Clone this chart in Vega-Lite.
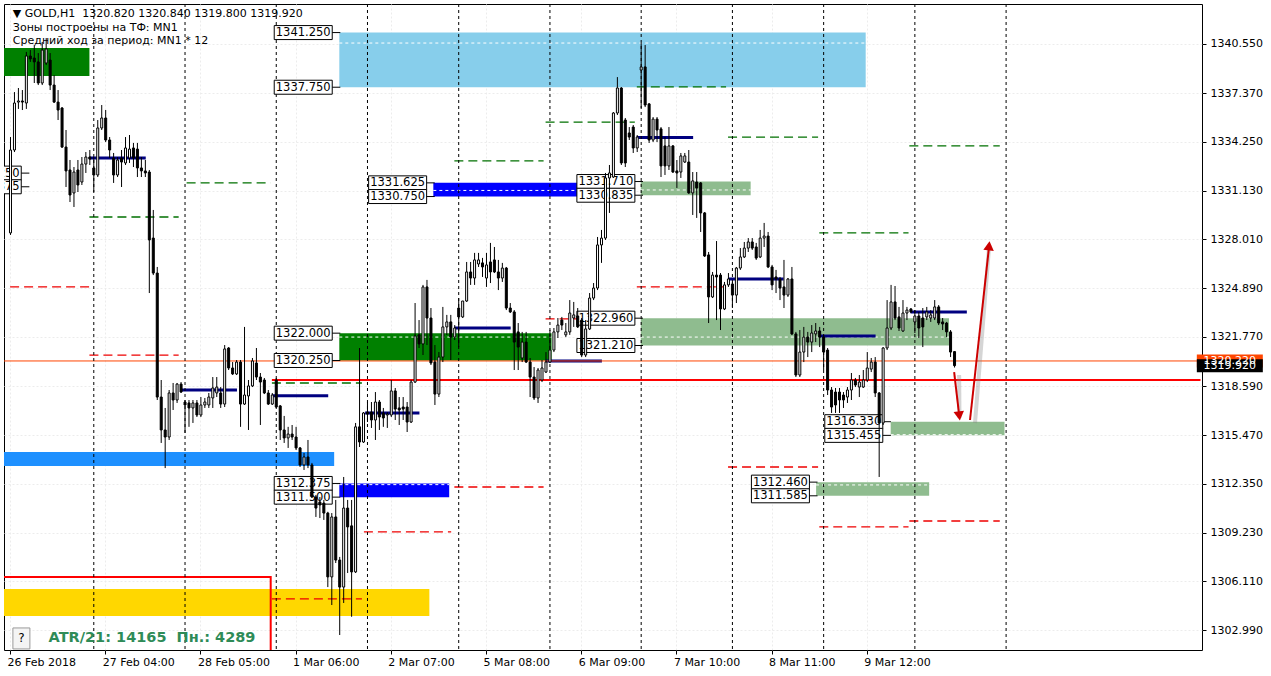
{
"$schema":"https://vega.github.io/schema/vega-lite/v6.json",
"width":1198,"height":646,
"autosize":"none",
"padding":{"left":4,"top":4,"right":69,"bottom":26},
"background":"white",
"config":{"view":{"stroke":"black","strokeWidth":1},"font":"DejaVu Sans"},
"datasets":{
"c":[
{"i":0,"o":1328.42,"h":1334.56,"l":1328.29,"c":1333.73},
{"i":1,"o":1333.73,"h":1337.44,"l":1333.60,"c":1336.74},
{"i":2,"o":1336.80,"h":1337.70,"l":1336.36,"c":1336.87},
{"i":3,"o":1336.87,"h":1337.57,"l":1336.29,"c":1336.80},
{"i":4,"o":1336.74,"h":1340.01,"l":1336.36,"c":1339.75},
{"i":5,"o":1339.75,"h":1340.13,"l":1339.37,"c":1339.56},
{"i":6,"o":1339.62,"h":1340.45,"l":1338.02,"c":1339.37},
{"i":7,"o":1339.37,"h":1339.94,"l":1337.89,"c":1338.02},
{"i":8,"o":1338.02,"h":1340.65,"l":1337.89,"c":1340.13},
{"i":9,"o":1339.30,"h":1340.90,"l":1339.17,"c":1340.20},
{"i":10,"o":1339.49,"h":1339.94,"l":1337.57,"c":1337.89},
{"i":11,"o":1337.89,"h":1338.53,"l":1336.74,"c":1336.80},
{"i":12,"o":1336.80,"h":1337.57,"l":1335.65,"c":1336.29},
{"i":13,"o":1336.42,"h":1336.48,"l":1333.86,"c":1333.92},
{"i":14,"o":1333.92,"h":1335.01,"l":1331.36,"c":1332.39},
{"i":15,"o":1332.45,"h":1333.09,"l":1330.40,"c":1330.85},
{"i":16,"o":1330.98,"h":1332.64,"l":1330.08,"c":1332.32},
{"i":17,"o":1332.45,"h":1333.09,"l":1331.04,"c":1331.49},
{"i":18,"o":1331.68,"h":1333.28,"l":1331.49,"c":1332.83},
{"i":19,"o":1332.83,"h":1333.60,"l":1332.26,"c":1333.28},
{"i":20,"o":1333.28,"h":1333.73,"l":1332.77,"c":1333.15},
{"i":21,"o":1332.58,"h":1333.28,"l":1331.04,"c":1332.13},
{"i":22,"o":1332.13,"h":1335.65,"l":1332.00,"c":1335.14},
{"i":23,"o":1335.14,"h":1336.61,"l":1335.01,"c":1335.78},
{"i":24,"o":1335.78,"h":1336.29,"l":1334.24,"c":1334.37},
{"i":25,"o":1334.37,"h":1334.56,"l":1333.22,"c":1333.73},
{"i":26,"o":1333.22,"h":1333.54,"l":1331.62,"c":1332.13},
{"i":27,"o":1332.13,"h":1333.28,"l":1332.00,"c":1333.09},
{"i":28,"o":1333.22,"h":1333.73,"l":1331.36,"c":1332.96},
{"i":29,"o":1332.90,"h":1334.56,"l":1332.77,"c":1333.86},
{"i":30,"o":1333.22,"h":1334.69,"l":1332.90,"c":1333.79},
{"i":31,"o":1333.86,"h":1334.18,"l":1332.64,"c":1333.22},
{"i":32,"o":1333.79,"h":1334.18,"l":1332.00,"c":1332.58},
{"i":33,"o":1332.58,"h":1333.28,"l":1332.00,"c":1332.39},
{"i":34,"o":1332.39,"h":1333.09,"l":1332.00,"c":1332.26},
{"i":35,"o":1332.32,"h":1332.45,"l":1324.57,"c":1327.97},
{"i":36,"o":1328.09,"h":1329.89,"l":1325.72,"c":1325.85},
{"i":37,"o":1325.85,"h":1326.24,"l":1317.72,"c":1317.91},
{"i":38,"o":1317.91,"h":1319.00,"l":1314.97,"c":1315.80},
{"i":39,"o":1315.80,"h":1317.21,"l":1313.36,"c":1315.35},
{"i":40,"o":1315.35,"h":1318.36,"l":1315.16,"c":1318.17},
{"i":41,"o":1318.17,"h":1318.81,"l":1317.08,"c":1317.72},
{"i":42,"o":1317.72,"h":1318.81,"l":1317.53,"c":1318.74},
{"i":43,"o":1318.74,"h":1318.87,"l":1318.17,"c":1318.23},
{"i":44,"o":1317.59,"h":1317.72,"l":1315.61,"c":1317.40},
{"i":45,"o":1317.53,"h":1317.72,"l":1316.00,"c":1317.21},
{"i":46,"o":1317.21,"h":1317.72,"l":1316.25,"c":1317.53},
{"i":47,"o":1317.53,"h":1317.72,"l":1316.63,"c":1316.76},
{"i":48,"o":1316.76,"h":1317.91,"l":1316.63,"c":1317.40},
{"i":49,"o":1317.40,"h":1317.85,"l":1317.21,"c":1317.59},
{"i":50,"o":1317.40,"h":1318.17,"l":1317.21,"c":1317.91},
{"i":51,"o":1317.85,"h":1319.19,"l":1317.21,"c":1318.49},
{"i":52,"o":1318.17,"h":1319.19,"l":1317.91,"c":1318.55},
{"i":53,"o":1318.17,"h":1318.55,"l":1317.21,"c":1317.46},
{"i":54,"o":1317.46,"h":1321.24,"l":1317.27,"c":1320.99},
{"i":55,"o":1321.05,"h":1321.11,"l":1319.64,"c":1319.77},
{"i":56,"o":1319.77,"h":1320.15,"l":1319.32,"c":1319.39},
{"i":57,"o":1319.39,"h":1320.28,"l":1319.32,"c":1320.15},
{"i":58,"o":1320.15,"h":1320.28,"l":1316.00,"c":1317.46},
{"i":59,"o":1317.46,"h":1322.40,"l":1317.40,"c":1318.04},
{"i":60,"o":1317.98,"h":1319.00,"l":1315.80,"c":1318.62},
{"i":61,"o":1318.62,"h":1320.41,"l":1318.55,"c":1320.22},
{"i":62,"o":1320.09,"h":1321.05,"l":1319.00,"c":1319.19},
{"i":63,"o":1319.19,"h":1319.45,"l":1316.12,"c":1318.87},
{"i":64,"o":1319.00,"h":1319.13,"l":1318.10,"c":1318.17},
{"i":65,"o":1318.17,"h":1318.36,"l":1317.40,"c":1317.46},
{"i":66,"o":1317.46,"h":1318.17,"l":1317.40,"c":1318.04},
{"i":67,"o":1319.00,"h":1319.13,"l":1317.21,"c":1317.27},
{"i":68,"o":1317.34,"h":1317.40,"l":1315.16,"c":1315.80},
{"i":69,"o":1315.80,"h":1316.70,"l":1314.97,"c":1315.29},
{"i":70,"o":1315.29,"h":1316.00,"l":1314.65,"c":1315.54},
{"i":71,"o":1315.54,"h":1316.12,"l":1315.16,"c":1315.35},
{"i":72,"o":1315.35,"h":1316.00,"l":1314.52,"c":1314.65},
{"i":73,"o":1314.65,"h":1314.71,"l":1313.43,"c":1313.56},
{"i":74,"o":1313.56,"h":1314.33,"l":1313.24,"c":1314.07},
{"i":75,"o":1314.07,"h":1315.16,"l":1313.36,"c":1313.56},
{"i":76,"o":1313.56,"h":1313.69,"l":1311.44,"c":1311.51},
{"i":77,"o":1311.51,"h":1311.64,"l":1310.23,"c":1310.80},
{"i":78,"o":1311.19,"h":1311.51,"l":1310.16,"c":1311.00},
{"i":79,"o":1311.12,"h":1311.32,"l":1310.04,"c":1310.48},
{"i":80,"o":1310.48,"h":1310.56,"l":1305.74,"c":1306.39},
{"i":81,"o":1306.39,"h":1310.48,"l":1304.59,"c":1310.23},
{"i":82,"o":1310.23,"h":1311.32,"l":1307.28,"c":1307.47},
{"i":83,"o":1307.47,"h":1307.67,"l":1302.67,"c":1305.74},
{"i":84,"o":1305.74,"h":1312.79,"l":1304.72,"c":1310.80},
{"i":85,"o":1310.80,"h":1311.32,"l":1306.64,"c":1309.59},
{"i":86,"o":1309.66,"h":1311.32,"l":1303.84,"c":1306.71},
{"i":87,"o":1306.71,"h":1316.25,"l":1306.64,"c":1316.00},
{"i":88,"o":1316.00,"h":1321.05,"l":1314.71,"c":1315.03},
{"i":89,"o":1315.03,"h":1316.95,"l":1314.97,"c":1316.89},
{"i":90,"o":1316.95,"h":1317.59,"l":1316.31,"c":1316.82},
{"i":91,"o":1316.95,"h":1317.59,"l":1315.93,"c":1316.44},
{"i":92,"o":1316.44,"h":1318.23,"l":1315.16,"c":1317.59},
{"i":93,"o":1317.59,"h":1317.72,"l":1315.80,"c":1316.63},
{"i":94,"o":1316.89,"h":1317.21,"l":1316.00,"c":1316.57},
{"i":95,"o":1316.76,"h":1316.95,"l":1315.93,"c":1316.82},
{"i":96,"o":1316.76,"h":1319.00,"l":1316.63,"c":1318.30},
{"i":97,"o":1318.30,"h":1318.49,"l":1316.44,"c":1317.14},
{"i":98,"o":1317.21,"h":1317.91,"l":1316.12,"c":1317.08},
{"i":99,"o":1317.27,"h":1317.91,"l":1316.44,"c":1317.14},
{"i":100,"o":1317.27,"h":1317.59,"l":1315.67,"c":1316.31},
{"i":101,"o":1316.31,"h":1319.00,"l":1316.25,"c":1318.87},
{"i":102,"o":1318.87,"h":1323.93,"l":1318.81,"c":1321.82},
{"i":103,"o":1321.89,"h":1322.84,"l":1321.05,"c":1321.31},
{"i":104,"o":1321.31,"h":1325.09,"l":1320.60,"c":1324.96},
{"i":105,"o":1324.96,"h":1325.41,"l":1321.24,"c":1322.97},
{"i":106,"o":1322.97,"h":1323.61,"l":1319.96,"c":1320.09},
{"i":107,"o":1320.15,"h":1321.24,"l":1317.40,"c":1318.10},
{"i":108,"o":1318.10,"h":1320.79,"l":1317.91,"c":1320.47},
{"i":109,"o":1320.47,"h":1323.68,"l":1320.15,"c":1322.40},
{"i":110,"o":1322.40,"h":1323.17,"l":1321.88,"c":1322.72},
{"i":111,"o":1322.72,"h":1323.17,"l":1320.28,"c":1321.75},
{"i":112,"o":1321.75,"h":1322.52,"l":1321.56,"c":1322.33},
{"i":113,"o":1323.61,"h":1324.25,"l":1321.11,"c":1323.04},
{"i":114,"o":1323.04,"h":1324.06,"l":1322.97,"c":1324.06},
{"i":115,"o":1324.06,"h":1326.56,"l":1324.00,"c":1325.92},
{"i":116,"o":1325.92,"h":1326.56,"l":1325.09,"c":1325.53},
{"i":117,"o":1325.53,"h":1327.14,"l":1325.09,"c":1326.69},
{"i":118,"o":1326.43,"h":1327.14,"l":1326.24,"c":1326.69},
{"i":119,"o":1326.50,"h":1326.82,"l":1325.60,"c":1326.24},
{"i":120,"o":1325.53,"h":1327.14,"l":1324.96,"c":1326.37},
{"i":121,"o":1326.56,"h":1327.78,"l":1325.21,"c":1325.92},
{"i":122,"o":1326.69,"h":1327.52,"l":1325.85,"c":1325.92},
{"i":123,"o":1325.92,"h":1326.69,"l":1324.76,"c":1325.53},
{"i":124,"o":1325.53,"h":1326.50,"l":1325.28,"c":1326.17},
{"i":125,"o":1326.17,"h":1326.24,"l":1323.48,"c":1323.61},
{"i":126,"o":1323.61,"h":1323.93,"l":1323.29,"c":1323.36},
{"i":127,"o":1323.36,"h":1323.48,"l":1319.64,"c":1321.43},
{"i":128,"o":1322.08,"h":1322.65,"l":1319.64,"c":1321.11},
{"i":129,"o":1320.41,"h":1322.08,"l":1320.15,"c":1321.43},
{"i":130,"o":1321.43,"h":1322.08,"l":1320.09,"c":1320.15},
{"i":131,"o":1320.15,"h":1320.41,"l":1317.91,"c":1319.19},
{"i":132,"o":1319.19,"h":1319.83,"l":1317.72,"c":1317.85},
{"i":133,"o":1317.85,"h":1319.77,"l":1317.53,"c":1319.64},
{"i":134,"o":1319.00,"h":1320.28,"l":1318.87,"c":1319.77},
{"i":135,"o":1319.51,"h":1320.79,"l":1319.45,"c":1320.15},
{"i":136,"o":1320.15,"h":1322.20,"l":1320.09,"c":1320.92},
{"i":137,"o":1320.92,"h":1322.33,"l":1320.79,"c":1322.08},
{"i":138,"o":1322.08,"h":1322.97,"l":1321.69,"c":1322.52},
{"i":139,"o":1322.84,"h":1323.04,"l":1322.20,"c":1322.52},
{"i":140,"o":1321.89,"h":1322.65,"l":1321.75,"c":1322.08},
{"i":141,"o":1322.08,"h":1324.12,"l":1321.89,"c":1323.29},
{"i":142,"o":1322.97,"h":1324.00,"l":1322.40,"c":1323.17},
{"i":143,"o":1323.10,"h":1323.61,"l":1322.33,"c":1322.40},
{"i":144,"o":1322.84,"h":1322.97,"l":1320.47,"c":1320.60},
{"i":145,"o":1320.60,"h":1322.84,"l":1320.47,"c":1322.27},
{"i":146,"o":1322.27,"h":1324.57,"l":1322.20,"c":1324.25},
{"i":147,"o":1324.25,"h":1325.21,"l":1324.12,"c":1324.89},
{"i":148,"o":1324.89,"h":1328.16,"l":1324.76,"c":1327.65},
{"i":149,"o":1327.65,"h":1328.61,"l":1326.50,"c":1328.09},
{"i":150,"o":1328.09,"h":1332.26,"l":1327.97,"c":1331.94},
{"i":151,"o":1331.94,"h":1332.77,"l":1329.70,"c":1332.26},
{"i":152,"o":1332.00,"h":1336.16,"l":1331.94,"c":1336.10},
{"i":153,"o":1336.10,"h":1338.40,"l":1335.97,"c":1337.70},
{"i":154,"o":1337.70,"h":1337.76,"l":1332.77,"c":1332.90},
{"i":155,"o":1335.65,"h":1335.78,"l":1332.64,"c":1332.90},
{"i":156,"o":1334.82,"h":1335.20,"l":1334.37,"c":1334.56},
{"i":157,"o":1335.20,"h":1335.33,"l":1333.54,"c":1333.86},
{"i":158,"o":1333.86,"h":1334.69,"l":1333.60,"c":1334.56},
{"i":159,"o":1338.85,"h":1340.58,"l":1336.42,"c":1339.05},
{"i":160,"o":1339.05,"h":1340.45,"l":1336.48,"c":1336.61},
{"i":161,"o":1336.68,"h":1336.74,"l":1334.18,"c":1334.37},
{"i":162,"o":1334.37,"h":1335.84,"l":1334.24,"c":1335.71},
{"i":163,"o":1335.71,"h":1335.84,"l":1334.24,"c":1335.01},
{"i":164,"o":1335.08,"h":1335.20,"l":1332.00,"c":1332.71},
{"i":165,"o":1333.99,"h":1334.56,"l":1332.13,"c":1332.71},
{"i":166,"o":1332.71,"h":1335.20,"l":1332.45,"c":1333.99},
{"i":167,"o":1333.99,"h":1334.05,"l":1332.26,"c":1332.32},
{"i":168,"o":1332.39,"h":1333.09,"l":1331.30,"c":1332.26},
{"i":169,"o":1332.32,"h":1333.54,"l":1331.94,"c":1333.35},
{"i":170,"o":1332.96,"h":1333.54,"l":1332.90,"c":1333.35},
{"i":171,"o":1332.96,"h":1333.73,"l":1330.92,"c":1330.98},
{"i":172,"o":1330.98,"h":1332.32,"l":1329.57,"c":1331.75},
{"i":173,"o":1331.68,"h":1332.32,"l":1329.38,"c":1331.30},
{"i":174,"o":1331.62,"h":1331.68,"l":1328.48,"c":1329.70},
{"i":175,"o":1329.70,"h":1329.76,"l":1326.88,"c":1326.94},
{"i":176,"o":1327.01,"h":1327.20,"l":1322.65,"c":1324.32},
{"i":177,"o":1324.32,"h":1325.92,"l":1324.25,"c":1325.72},
{"i":178,"o":1325.72,"h":1327.90,"l":1322.84,"c":1325.60},
{"i":179,"o":1325.72,"h":1325.85,"l":1322.20,"c":1323.55},
{"i":180,"o":1323.55,"h":1325.28,"l":1323.48,"c":1325.09},
{"i":181,"o":1325.09,"h":1325.85,"l":1324.96,"c":1325.47},
{"i":182,"o":1325.15,"h":1325.28,"l":1323.61,"c":1324.44},
{"i":183,"o":1324.44,"h":1326.24,"l":1323.93,"c":1326.17},
{"i":184,"o":1326.17,"h":1327.45,"l":1326.05,"c":1326.88},
{"i":185,"o":1326.88,"h":1327.84,"l":1326.81,"c":1327.45},
{"i":186,"o":1327.45,"h":1328.09,"l":1327.20,"c":1327.84},
{"i":187,"o":1327.84,"h":1328.09,"l":1327.33,"c":1327.45},
{"i":188,"o":1327.52,"h":1327.78,"l":1326.69,"c":1326.81},
{"i":189,"o":1326.88,"h":1328.61,"l":1326.81,"c":1328.09},
{"i":190,"o":1328.09,"h":1329.06,"l":1327.52,"c":1328.22},
{"i":191,"o":1328.22,"h":1328.48,"l":1326.17,"c":1326.24},
{"i":192,"o":1326.24,"h":1326.37,"l":1324.76,"c":1325.09},
{"i":193,"o":1325.60,"h":1326.05,"l":1324.57,"c":1325.47},
{"i":194,"o":1325.47,"h":1325.60,"l":1324.12,"c":1324.89},
{"i":195,"o":1324.96,"h":1326.69,"l":1323.61,"c":1324.44},
{"i":196,"o":1324.44,"h":1325.53,"l":1324.32,"c":1325.47},
{"i":197,"o":1325.47,"h":1326.24,"l":1321.88,"c":1321.95},
{"i":198,"o":1321.95,"h":1322.08,"l":1319.19,"c":1319.32},
{"i":199,"o":1319.32,"h":1322.20,"l":1319.19,"c":1320.79},
{"i":200,"o":1320.79,"h":1322.40,"l":1320.15,"c":1321.75},
{"i":201,"o":1321.75,"h":1322.08,"l":1320.47,"c":1321.43},
{"i":202,"o":1321.43,"h":1322.52,"l":1320.79,"c":1322.01},
{"i":203,"o":1321.95,"h":1322.65,"l":1321.43,"c":1322.14},
{"i":204,"o":1322.14,"h":1322.40,"l":1321.11,"c":1321.75},
{"i":205,"o":1321.75,"h":1321.88,"l":1319.64,"c":1320.79},
{"i":206,"o":1320.92,"h":1321.05,"l":1318.04,"c":1318.36},
{"i":207,"o":1318.36,"h":1318.55,"l":1316.89,"c":1317.27},
{"i":208,"o":1318.23,"h":1318.49,"l":1316.89,"c":1317.40},
{"i":209,"o":1318.23,"h":1318.49,"l":1316.89,"c":1317.72},
{"i":210,"o":1318.04,"h":1318.23,"l":1317.21,"c":1317.72},
{"i":211,"o":1317.91,"h":1318.55,"l":1317.53,"c":1318.36},
{"i":212,"o":1318.36,"h":1319.45,"l":1317.72,"c":1319.00},
{"i":213,"o":1319.00,"h":1319.13,"l":1318.55,"c":1318.68},
{"i":214,"o":1318.55,"h":1319.32,"l":1317.91,"c":1318.87},
{"i":215,"o":1318.55,"h":1319.64,"l":1318.49,"c":1319.00},
{"i":216,"o":1319.00,"h":1320.79,"l":1318.87,"c":1319.77},
{"i":217,"o":1319.70,"h":1320.41,"l":1319.51,"c":1320.15},
{"i":218,"o":1320.15,"h":1320.47,"l":1317.91,"c":1318.17},
{"i":219,"o":1318.17,"h":1318.23,"l":1312.79,"c":1316.25},
{"i":220,"o":1316.25,"h":1321.11,"l":1316.12,"c":1321.05},
{"i":221,"o":1321.05,"h":1324.12,"l":1320.92,"c":1322.33},
{"i":222,"o":1322.33,"h":1325.09,"l":1322.20,"c":1324.00},
{"i":223,"o":1324.00,"h":1325.02,"l":1322.84,"c":1322.97},
{"i":224,"o":1323.04,"h":1323.68,"l":1322.14,"c":1322.33},
{"i":225,"o":1322.14,"h":1324.12,"l":1322.08,"c":1323.29},
{"i":226,"o":1323.29,"h":1323.68,"l":1322.84,"c":1323.48},
{"i":227,"o":1323.55,"h":1323.61,"l":1323.29,"c":1323.36},
{"i":228,"o":1322.72,"h":1323.48,"l":1322.01,"c":1323.10},
{"i":229,"o":1323.10,"h":1323.36,"l":1321.69,"c":1322.33},
{"i":230,"o":1322.97,"h":1323.61,"l":1321.11,"c":1322.40},
{"i":231,"o":1323.04,"h":1323.68,"l":1322.84,"c":1323.36},
{"i":232,"o":1322.97,"h":1323.48,"l":1322.72,"c":1323.17},
{"i":233,"o":1322.97,"h":1324.12,"l":1322.84,"c":1323.68},
{"i":234,"o":1323.68,"h":1323.80,"l":1322.52,"c":1322.65},
{"i":235,"o":1322.72,"h":1322.97,"l":1322.20,"c":1322.59},
{"i":236,"o":1322.65,"h":1322.72,"l":1321.75,"c":1322.08},
{"i":237,"o":1322.08,"h":1322.20,"l":1320.47,"c":1320.79},
{"i":238,"o":1320.82,"h":1320.84,"l":1319.80,"c":1319.92}
],
"z":[
{"k":"sky","x1":82.9,"x2":215.6,"p1":1337.75,"p2":1341.25},
{"k":"green","x1":-2,"x2":19.9,"p1":1338.47,"p2":1340.26},
{"k":"dodger","x1":-2,"x2":81.6,"p1":1313.49,"p2":1314.39},
{"k":"gold","x1":-2,"x2":105.6,"p1":1303.89,"p2":1305.62},
{"k":"green","x1":82.9,"x2":136.4,"p1":1320.25,"p2":1322.0},
{"k":"blue","x1":106.6,"x2":157.4,"p1":1330.75,"p2":1331.625},
{"k":"blue","x1":82.9,"x2":110.6,"p1":1311.5,"p2":1312.375},
{"k":"sage","x1":158.9,"x2":186.6,"p1":1330.835,"p2":1331.71},
{"k":"sage","x1":158.9,"x2":236.6,"p1":1321.21,"p2":1322.96},
{"k":"sage","x1":221.9,"x2":250.6,"p1":1315.455,"p2":1316.33},
{"k":"sage","x1":203.1,"x2":231.6,"p1":1311.585,"p2":1312.46}
],
"mid":[
{"x1":82.9,"x2":215.6,"p":1340.58},{"x1":82.9,"x2":136.4,"p":1321.75},{"x1":106.6,"x2":157.4,"p":1331.14},{"x1":82.9,"x2":110.6,"p":1312.3},{"x1":158.9,"x2":186.6,"p":1331.17},{"x1":158.9,"x2":236.6,"p":1321.75},{"x1":221.9,"x2":250.6,"p":1315.5},{"x1":203.1,"x2":231.6,"p":1312.28}
],
"d":[
{"k":"r","x1":-0.1,"x2":19.9,"p":1324.96},
{"k":"g","x1":19.9,"x2":42.4,"p":1329.44},
{"k":"r","x1":19.9,"x2":42.4,"p":1320.60},
{"k":"g","x1":44.4,"x2":65.6,"p":1331.62},
{"k":"g","x1":65.9,"x2":88.6,"p":1318.81},
{"k":"r","x1":65.9,"x2":88.6,"p":1304.98},
{"k":"r","x1":89.1,"x2":111.1,"p":1309.27},
{"k":"g","x1":111.9,"x2":134.4,"p":1333.03},
{"k":"r","x1":111.9,"x2":134.4,"p":1312.15},
{"k":"g","x1":134.9,"x2":157.4,"p":1335.52},
{"k":"r","x1":134.9,"x2":157.4,"p":1322.91},
{"k":"g","x1":157.9,"x2":180.4,"p":1337.77},
{"k":"r","x1":157.9,"x2":180.4,"p":1324.96},
{"k":"g","x1":180.9,"x2":203.6,"p":1334.56},
{"k":"r","x1":180.9,"x2":203.6,"p":1313.43},
{"k":"g","x1":203.9,"x2":226.4,"p":1328.42},
{"k":"r","x1":203.9,"x2":226.4,"p":1309.59},
{"k":"g","x1":226.6,"x2":249.4,"p":1333.99},
{"k":"r","x1":226.6,"x2":249.4,"p":1309.97}
],
"n":[
{"x1":19.9,"x2":34.1,"p":1333.22},{"x1":42.9,"x2":57.1,"p":1318.36},{"x1":66.1,"x2":80.1,"p":1317.99},{"x1":89.4,"x2":103.1,"p":1316.89},{"x1":111.9,"x2":126.1,"p":1322.33},{"x1":134.9,"x2":149.1,"p":1320.22},{"x1":157.9,"x2":172.1,"p":1334.53},{"x1":181.1,"x2":194.9,"p":1325.47},{"x1":204.1,"x2":218.1,"p":1321.82},{"x1":226.9,"x2":241.1,"p":1323.36}
],
"so":[{"x1":-2,"x2":300,"p":1320.22}],
"sr":[{"x1":65.9,"x2":300,"p":1319.0}],
"box":[{"x1":-2,"x2":65.6,"p1":1300,"p2":1306.39}],
"sep":[{"i":21},{"i":44},{"i":67},{"i":90},{"i":113},{"i":136},{"i":159},{"i":182},{"i":205},{"i":228},{"i":251}],
"lb":[
{"i":73.8,"p":1341.25,"t":"1341.250"},{"i":73.8,"p":1337.75,"t":"1337.750"},
{"i":97.6,"p":1331.625,"t":"1331.625"},{"i":97.6,"p":1330.75,"t":"1330.750"},
{"i":150.1,"p":1331.71,"t":"1331.710"},{"i":150.1,"p":1330.835,"t":"1330.835"},
{"i":73.8,"p":1322.0,"t":"1322.000"},{"i":73.8,"p":1320.25,"t":"1320.250"},
{"i":150.1,"p":1322.96,"t":"1322.960"},{"i":150.1,"p":1321.21,"t":"1321.210"},
{"i":73.8,"p":1312.375,"t":"1312.375"},{"i":73.8,"p":1311.5,"t":"1311.500"},
{"i":194.1,"p":1312.46,"t":"1312.460"},{"i":194.1,"p":1311.585,"t":"1311.585"},
{"i":212.6,"p":1316.33,"t":"1316.330"},{"i":212.6,"p":1315.455,"t":"1315.455"},
{"i":-4.6,"p":1332.25,"t":"1332.250"},{"i":-4.6,"p":1331.375,"t":"1331.375"}
],
"ar":[{"x1":237.9,"p1":1319.51,"x2":239.25,"p2":1316.57},{"x1":241.9,"p1":1316.44,"x2":246.75,"p2":1327.65}],
"ah":[{"k":"down","i":239.2,"p":1316.7},{"k":"up","i":246.7,"p":1327.59}],
"hd":[
{"i":0.6,"p":1342.44,"t":"▼ GOLD,H1\u00a0 1320.820 1320.840 1319.800 1319.920"},
{"i":0.6,"p":1341.57,"t":"Зоны построены на ТФ: MN1"},
{"i":0.6,"p":1340.74,"t":"Средний ход за период: MN1 * 12"}
],
"atr":[{"i":9.6,"p":1302.45,"t":"ATR/21: 14165\u00a0 Пн.: 4289"}],
"q":[{"i":2.75,"p":1302.45,"t":"?"}],
"cur":[{"k":"o","i":307.4,"p":1320.22,"t":"1320.220"},{"k":"b","i":307.4,"p":1319.92,"t":"1319.920"}]
},
"layer":[
{"data":{"name":"z"},"mark":{"type":"rect","clip":true},
 "encoding":{
  "x":{"field":"x1","type":"quantitative","title":null,"scale":{"domain":[-0.375,299.125],"nice":false,"zero":false},
   "axis":{"values":[-0.125,23.875,47.875,71.875,95.875,119.875,143.875,167.875,191.875,215.875],
    "labelExpr":"['26 Feb 2018','27 Feb 04:00','28 Feb 05:00','1 Mar 06:00','2 Mar 07:00','5 Mar 08:00','6 Mar 09:00','7 Mar 10:00','8 Mar 11:00','9 Mar 12:00'][round((datum.value+0.125)/24)]",
    "labelAlign":"left","labelPadding":2,"labelOffset":-3,"tickSize":4,"domain":false,"grid":true,"gridColor":"#ececec","gridDash":[2,2],
    "labelFont":"DejaVu Sans","labelFontSize":11,"labelColor":"black","tickColor":"black","labelOverlap":false,"labelFlush":false,"labelBound":false}},
  "x2":{"field":"x2"},
  "y":{"field":"p1","type":"quantitative","title":null,"scale":{"domain":[1301.71,1343.08],"nice":false,"zero":false},
   "axis":{"orient":"right","values":[1302.99,1306.11,1309.23,1312.35,1315.47,1318.59,1321.77,1324.89,1328.01,1331.13,1334.25,1337.37,1340.55],
    "format":".3f","tickSize":4,"labelPadding":4,"domain":false,"grid":true,"gridColor":"#ececec","gridDash":[2,2],
    "labelFont":"DejaVu Sans","labelFontSize":11,"labelColor":"black","tickColor":"black","labelOverlap":false,"labelFlush":false,"labelBound":false}},
  "y2":{"field":"p2"},
  "fill":{"field":"k","type":"nominal","legend":null,"scale":{"domain":["sky","green","dodger","gold","blue","sage"],"range":["#87CEEB","#008000","#1E90FF","#FFD700","#0000FF","#8FBC8F"]}}
 }},
{"data":{"name":"box"},"mark":{"type":"rect","clip":true,"fill":null,"fillOpacity":0,"stroke":"#FF0000","strokeWidth":2},
 "encoding":{"x":{"field":"x1","type":"quantitative","title":null,"scale":{"domain":[-0.375,299.125],"nice":false,"zero":false}},"x2":{"field":"x2"},
  "y":{"field":"p1","type":"quantitative","title":null,"scale":{"domain":[1301.71,1343.08],"nice":false,"zero":false}},"y2":{"field":"p2"}}},
{"data":{"name":"mid"},"mark":{"type":"rule","clip":true,"color":"white","strokeWidth":1,"strokeDash":[3,3]},
 "encoding":{"x":{"field":"x1","type":"quantitative","title":null,"scale":{"domain":[-0.375,299.125],"nice":false,"zero":false}},"x2":{"field":"x2"},
  "y":{"field":"p","type":"quantitative","title":null,"scale":{"domain":[1301.71,1343.08],"nice":false,"zero":false}}}},
{"data":{"name":"d"},"mark":{"type":"rule","clip":true,"strokeWidth":1.3,"strokeDash":[9,5]},
 "encoding":{"x":{"field":"x1","type":"quantitative","title":null,"scale":{"domain":[-0.375,299.125],"nice":false,"zero":false}},"x2":{"field":"x2"},
  "y":{"field":"p","type":"quantitative","title":null,"scale":{"domain":[1301.71,1343.08],"nice":false,"zero":false}},
  "stroke":{"condition":{"test":"datum.k=='g'","value":"#007000"},"value":"#EE0000"}}},
{"data":{"name":"n"},"mark":{"type":"rule","clip":true,"color":"#000080","strokeWidth":3},
 "encoding":{"x":{"field":"x1","type":"quantitative","title":null,"scale":{"domain":[-0.375,299.125],"nice":false,"zero":false}},"x2":{"field":"x2"},
  "y":{"field":"p","type":"quantitative","title":null,"scale":{"domain":[1301.71,1343.08],"nice":false,"zero":false}}}},
{"data":{"name":"so"},"mark":{"type":"rule","clip":true,"color":"#FF4500","strokeWidth":1},
 "encoding":{"x":{"field":"x1","type":"quantitative","title":null,"scale":{"domain":[-0.375,299.125],"nice":false,"zero":false}},"x2":{"field":"x2"},
  "y":{"field":"p","type":"quantitative","title":null,"scale":{"domain":[1301.71,1343.08],"nice":false,"zero":false}}}},
{"data":{"name":"sr"},"mark":{"type":"rule","clip":true,"color":"#FF0000","strokeWidth":2},
 "encoding":{"x":{"field":"x1","type":"quantitative","title":null,"scale":{"domain":[-0.375,299.125],"nice":false,"zero":false}},"x2":{"field":"x2"},
  "y":{"field":"p","type":"quantitative","title":null,"scale":{"domain":[1301.71,1343.08],"nice":false,"zero":false}}}},
{"data":{"name":"sep"},"mark":{"type":"rule","color":"black","strokeWidth":1,"strokeDash":[3,3]},
 "encoding":{"x":{"field":"i","type":"quantitative","title":null,"scale":{"domain":[-0.375,299.125],"nice":false,"zero":false}}}},
{"data":{"name":"lb"},"mark":{"type":"point","clip":true,"shape":"M-1,-0.2414L1,-0.2414L1,0.2414L-1,0.2414ZM1,0L1.28,0","size":3364,"filled":true,"fill":"white","stroke":"black","strokeWidth":1,"opacity":1},
 "encoding":{"x":{"field":"i","type":"quantitative","title":null,"scale":{"domain":[-0.375,299.125],"nice":false,"zero":false}},
  "y":{"field":"p","type":"quantitative","title":null,"scale":{"domain":[1301.71,1343.08],"nice":false,"zero":false}}}},
{"data":{"name":"lb"},"mark":{"type":"text","clip":true,"font":"DejaVu Sans","fontSize":11.5,"color":"black","align":"center","baseline":"middle","dy":0.5},
 "encoding":{"x":{"field":"i","type":"quantitative","title":null,"scale":{"domain":[-0.375,299.125],"nice":false,"zero":false}},
  "y":{"field":"p","type":"quantitative","title":null,"scale":{"domain":[1301.71,1343.08],"nice":false,"zero":false}},
  "text":{"field":"t"}}},
{"data":{"name":"c"},"mark":{"type":"rule","clip":true,"color":"black","strokeWidth":1},
 "encoding":{"x":{"field":"i","type":"quantitative","title":null,"scale":{"domain":[-0.375,299.125],"nice":false,"zero":false}},
  "y":{"field":"l","type":"quantitative","title":null,"scale":{"domain":[1301.71,1343.08],"nice":false,"zero":false}},"y2":{"field":"h"}}},
{"data":{"name":"c"},"mark":{"type":"bar","clip":true,"width":2,"stroke":"black","strokeWidth":1},
 "encoding":{"x":{"field":"i","type":"quantitative","title":null,"scale":{"domain":[-0.375,299.125],"nice":false,"zero":false}},
  "y":{"field":"o","type":"quantitative","title":null,"scale":{"domain":[1301.71,1343.08],"nice":false,"zero":false}},"y2":{"field":"c"},
  "fill":{"condition":{"test":"datum.c>=datum.o","value":"white"},"value":"black"}}},
{"data":{"name":"ar"},"mark":{"type":"rule","clip":true,"color":"#888888","opacity":0.35,"strokeWidth":4,"xOffset":5,"yOffset":3},
 "encoding":{"x":{"field":"x1","type":"quantitative","title":null,"scale":{"domain":[-0.375,299.125],"nice":false,"zero":false}},"x2":{"field":"x2"},
  "y":{"field":"p1","type":"quantitative","title":null,"scale":{"domain":[1301.71,1343.08],"nice":false,"zero":false}},"y2":{"field":"p2"}}},
{"data":{"name":"ar"},"mark":{"type":"rule","clip":true,"color":"#CC0000","strokeWidth":2},
 "encoding":{"x":{"field":"x1","type":"quantitative","title":null,"scale":{"domain":[-0.375,299.125],"nice":false,"zero":false}},"x2":{"field":"x2"},
  "y":{"field":"p1","type":"quantitative","title":null,"scale":{"domain":[1301.71,1343.08],"nice":false,"zero":false}},"y2":{"field":"p2"}}},
{"data":{"name":"ah"},"mark":{"type":"point","shape":"triangle-up","size":110,"filled":true,"color":"#CC0000","opacity":1},
 "encoding":{"x":{"field":"i","type":"quantitative","title":null,"scale":{"domain":[-0.375,299.125],"nice":false,"zero":false}},
  "y":{"field":"p","type":"quantitative","title":null,"scale":{"domain":[1301.71,1343.08],"nice":false,"zero":false}},
  "angle":{"condition":{"test":"datum.k=='up'","value":6},"value":173}}},
{"data":{"name":"hd"},"mark":{"type":"text","font":"DejaVu Sans","fontSize":11,"color":"black","align":"left","baseline":"middle"},
 "encoding":{"x":{"field":"i","type":"quantitative","title":null,"scale":{"domain":[-0.375,299.125],"nice":false,"zero":false}},
  "y":{"field":"p","type":"quantitative","title":null,"scale":{"domain":[1301.71,1343.08],"nice":false,"zero":false}},
  "text":{"field":"t"}}},
{"data":{"name":"atr"},"mark":{"type":"text","font":"DejaVu Sans","fontSize":14.5,"fontWeight":"bold","color":"#2E8B57","align":"left","baseline":"middle"},
 "encoding":{"x":{"field":"i","type":"quantitative","title":null,"scale":{"domain":[-0.375,299.125],"nice":false,"zero":false}},
  "y":{"field":"p","type":"quantitative","title":null,"scale":{"domain":[1301.71,1343.08],"nice":false,"zero":false}},
  "text":{"field":"t"}}},
{"data":{"name":"q"},"mark":{"type":"point","shape":"M-1,-1.235L1,-1.235L1,1.235L-1,1.235Z","size":289,"filled":true,"fill":"#f4f4f4","stroke":"#999999","strokeWidth":1,"opacity":1},
 "encoding":{"x":{"field":"i","type":"quantitative","title":null,"scale":{"domain":[-0.375,299.125],"nice":false,"zero":false}},
  "y":{"field":"p","type":"quantitative","title":null,"scale":{"domain":[1301.71,1343.08],"nice":false,"zero":false}}}},
{"data":{"name":"q"},"mark":{"type":"text","font":"DejaVu Sans","fontSize":12,"color":"black","align":"center","baseline":"middle"},
 "encoding":{"x":{"field":"i","type":"quantitative","title":null,"scale":{"domain":[-0.375,299.125],"nice":false,"zero":false}},
  "y":{"field":"p","type":"quantitative","title":null,"scale":{"domain":[1301.71,1343.08],"nice":false,"zero":false}},
  "text":{"field":"t"}}},
{"data":{"name":"cur"},"mark":{"type":"point","shape":"M-1,-0.197L1,-0.197L1,0.197L-1,0.197Z","size":4356,"filled":true,"opacity":1,"strokeWidth":0},
 "encoding":{"x":{"field":"i","type":"quantitative","title":null,"scale":{"domain":[-0.375,299.125],"nice":false,"zero":false}},
  "y":{"field":"p","type":"quantitative","title":null,"scale":{"domain":[1301.71,1343.08],"nice":false,"zero":false}},
  "fill":{"condition":{"test":"datum.k=='o'","value":"#FF4500"},"value":"black"}}},
{"data":{"name":"cur"},"mark":{"type":"text","font":"DejaVu Sans","fontSize":11,"color":"white","align":"center","baseline":"middle","dy":0.5},
 "encoding":{"x":{"field":"i","type":"quantitative","title":null,"scale":{"domain":[-0.375,299.125],"nice":false,"zero":false}},
  "y":{"field":"p","type":"quantitative","title":null,"scale":{"domain":[1301.71,1343.08],"nice":false,"zero":false}},
  "text":{"field":"t"}}}
]
}
